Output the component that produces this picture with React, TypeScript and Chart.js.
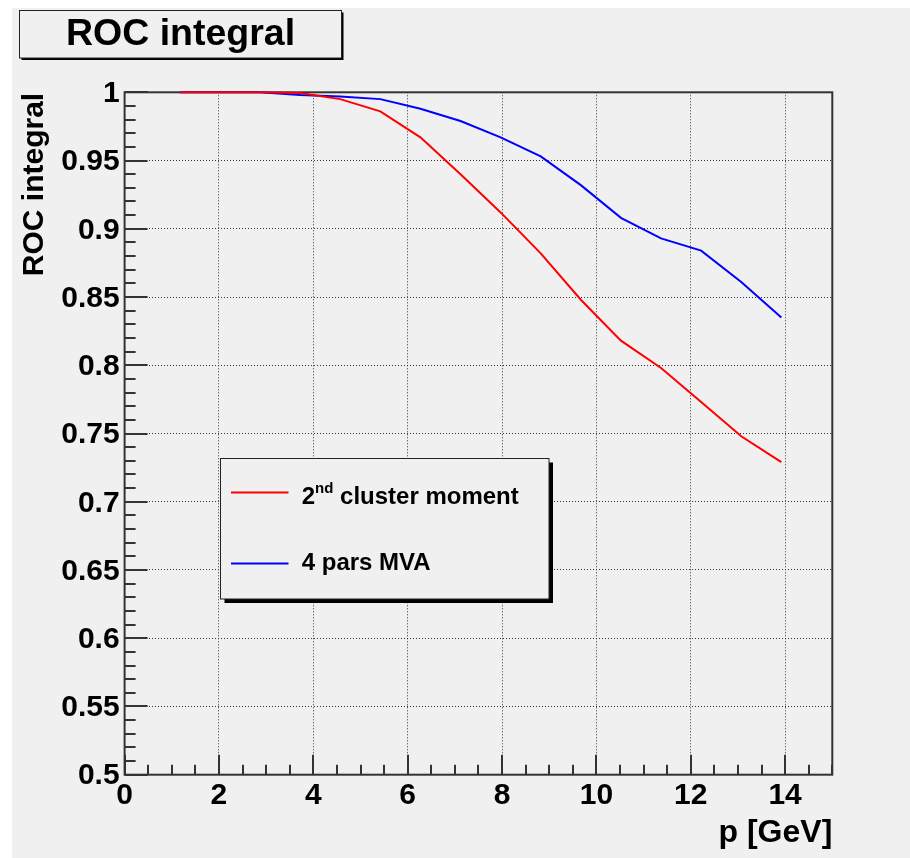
import React, { useEffect, useRef } from "react";
import { Chart, registerables } from "chart.js";

Chart.register(...registerables);

// ---- data ----
const momentum = [1.17, 2.02, 2.87, 3.72, 4.57, 5.42, 6.27, 7.12, 7.97, 8.82, 9.67, 10.52, 11.37, 12.22, 13.07, 13.92];
const clusterMoment = [1.0, 1.0, 1.0, 0.9995, 0.995, 0.986, 0.967, 0.94, 0.912, 0.882, 0.848, 0.818, 0.798, 0.773, 0.748, 0.729];
const parsMVA = [1.0, 1.0, 1.0, 0.998, 0.997, 0.995, 0.988, 0.979, 0.967, 0.953, 0.932, 0.908, 0.893, 0.884, 0.861, 0.835];
const seriesLabels = ["2nd cluster moment", "4 pars MVA"];
const seriesColors = ["#ff0000", "#0000ff"];
const xTicks = [0, 2, 4, 6, 8, 10, 12, 14];
const yTicks = [0.5, 0.55, 0.6, 0.65, 0.7, 0.75, 0.8, 0.85, 0.9, 0.95, 1];
const xRange = [0, 15];
const yRange = [0.5, 1];
const chartTitle = "ROC integral";
const xTitle = "p [GeV]";
const yTitle = "ROC integral";

const FONT = "'Liberation Sans', Arial, Helvetica, sans-serif";
const BG = "#f0f0f0";
const FRAME = "#333333";

const rootPlugin = {
  id: "rootStyle",
  beforeDatasetsDraw(chart: any) {
    const { ctx, chartArea: a, scales } = chart;
    const xs = scales.x;
    const ys = scales.y;
    ctx.save();
    ctx.strokeStyle = FRAME;
    ctx.lineWidth = 2;
    ctx.beginPath();
    // x ticks (inward): major every 2, minor every 0.5
    for (let k = 0; k <= (xRange[1] - xRange[0]) * 2; k++) {
      const v = xRange[0] + k * 0.5;
      const px = Math.round(xs.getPixelForValue(v));
      const major = k % 4 === 0;
      ctx.moveTo(px, a.bottom);
      ctx.lineTo(px, a.bottom - (major ? 20 : 10));
    }
    // y ticks (inward): major every 0.05, minor every 0.01
    for (let k = 0; k <= Math.round((yRange[1] - yRange[0]) * 100); k++) {
      const v = yRange[0] + k * 0.01;
      const py = Math.round(ys.getPixelForValue(v));
      const major = k % 5 === 0;
      ctx.moveTo(a.left, py);
      ctx.lineTo(a.left + (major ? 23 : 11), py);
    }
    ctx.stroke();
    ctx.strokeRect(a.left, a.top, a.right - a.left, a.bottom - a.top);
    ctx.restore();
  },
  afterDraw(chart: any) {
    const { ctx, chartArea: a } = chart;
    ctx.save();
    // title box
    const tb = { x: 7.5, y: 2.5, w: 322, h: 47.5 };
    ctx.fillStyle = "#000";
    ctx.fillRect(tb.x + 2, tb.y + 2, tb.w, tb.h);
    ctx.fillStyle = BG;
    ctx.fillRect(tb.x, tb.y, tb.w, tb.h);
    ctx.strokeStyle = "#222";
    ctx.lineWidth = 1;
    ctx.strokeRect(tb.x, tb.y, tb.w, tb.h);
    ctx.fillStyle = "#000";
    ctx.font = `bold 37.5px ${FONT}`;
    ctx.textAlign = "center";
    ctx.textBaseline = "alphabetic";
    ctx.fillText(chartTitle, tb.x + tb.w / 2, 37);

    // y-axis title (rotated, right-aligned to top of frame)
    ctx.save();
    ctx.translate(31, a.top + 0.5);
    ctx.rotate(-Math.PI / 2);
    ctx.font = `bold 30px ${FONT}`;
    ctx.textAlign = "right";
    ctx.fillText(yTitle, 0, 0);
    ctx.restore();

    // x-axis title (right-aligned to right end of frame)
    ctx.font = `bold 32px ${FONT}`;
    ctx.textAlign = "right";
    ctx.fillText(xTitle, a.right, 834);

    // legend
    const lb = { x: 208.5, y: 450.5, w: 328.5, h: 140.5 };
    ctx.fillStyle = "#000";
    ctx.fillRect(lb.x + 4, lb.y + 4, lb.w, lb.h);
    ctx.fillStyle = BG;
    ctx.fillRect(lb.x, lb.y, lb.w, lb.h);
    ctx.strokeStyle = "#222";
    ctx.lineWidth = 1;
    ctx.strokeRect(lb.x, lb.y, lb.w, lb.h);

    const rows = [484.5, 555.5];
    const baselines = [495.5, 562];
    chart.data.datasets.forEach((ds: any, i: number) => {
      ctx.strokeStyle = ds.borderColor;
      ctx.lineWidth = 2;
      ctx.beginPath();
      ctx.moveTo(219, rows[i]);
      ctx.lineTo(276.5, rows[i]);
      ctx.stroke();
      ctx.fillStyle = "#000";
      ctx.textAlign = "left";
      let x = 289.7;
      const label: string = ds.label;
      const m = label.match(/^(\d+)(st|nd|rd|th)(.*)$/);
      if (m) {
        ctx.font = `bold 24px ${FONT}`;
        ctx.fillText(m[1], x, baselines[i]);
        x += ctx.measureText(m[1]).width;
        ctx.font = `bold 15px ${FONT}`;
        ctx.fillText(m[2], x, baselines[i] - 11);
        x += ctx.measureText(m[2]).width;
        ctx.font = `bold 24px ${FONT}`;
        ctx.fillText(m[3], x, baselines[i]);
      } else {
        ctx.font = `bold 24px ${FONT}`;
        ctx.fillText(label, x, baselines[i]);
      }
    });
    ctx.restore();
  },
};

export default function App() {
  const ref = useRef<HTMLCanvasElement>(null);
  useEffect(() => {
    const canvas = ref.current;
    if (!canvas) return;
    const tickFont = { family: FONT, size: 30, weight: "bold" as const, lineHeight: 1.2 };
    const chart = new Chart(canvas, {
      type: "line",
      data: {
        datasets: [
          {
            label: seriesLabels[0],
            data: momentum.map((x, i) => ({ x, y: clusterMoment[i] })),
            borderColor: seriesColors[0],
            backgroundColor: seriesColors[0],
            borderWidth: 2,
            pointRadius: 0,
            tension: 0,
            clip: 6,
          },
          {
            label: seriesLabels[1],
            data: momentum.map((x, i) => ({ x, y: parsMVA[i] })),
            borderColor: seriesColors[1],
            backgroundColor: seriesColors[1],
            borderWidth: 2,
            pointRadius: 0,
            tension: 0,
            clip: 6,
          },
        ],
      },
      options: {
        responsive: false,
        animation: false,
        devicePixelRatio: 1,
        layout: { padding: { left: 12.6, right: 77.7, top: 84.3, bottom: 23.3 } },
        plugins: {
          legend: { display: false },
          tooltip: { enabled: false },
          title: { display: false },
        },
        scales: {
          x: {
            type: "linear",
            min: xRange[0],
            max: xRange[1],
            afterBuildTicks: (s: any) => {
              s.ticks = xTicks.map((v) => ({ value: v }));
            },
            afterFit: (s: any) => {
              s.height = 60;
            },
            ticks: {
              font: tickFont,
              color: "#000",
              padding: 3,
              maxRotation: 0,
              autoSkip: false,
              callback: (v: any) => String(v),
            },
            grid: { color: "#333", lineWidth: 1, drawTicks: false },
            border: { display: false, dash: [1, 2] },
          },
          y: {
            type: "linear",
            min: yRange[0],
            max: yRange[1],
            afterBuildTicks: (s: any) => {
              s.ticks = yTicks.map((v) => ({ value: v }));
            },
            afterFit: (s: any) => {
              s.width = 100;
            },
            ticks: {
              font: tickFont,
              color: "#000",
              padding: 5,
              labelOffset: 1.5,
              autoSkip: false,
              callback: (v: any) => String(Number(Number(v).toFixed(2))),
            },
            grid: { color: "#333", lineWidth: 1, drawTicks: false },
            border: { display: false, dash: [1, 2] },
          },
        },
      } as any,
      plugins: [rootPlugin],
    });
    return () => chart.destroy();
  }, []);

  return (
    <canvas
      ref={ref}
      width={898}
      height={850}
      style={{ position: "fixed", left: 12, top: 8, width: 898, height: 850, background: BG, display: "block" }}
    />
  );
}
